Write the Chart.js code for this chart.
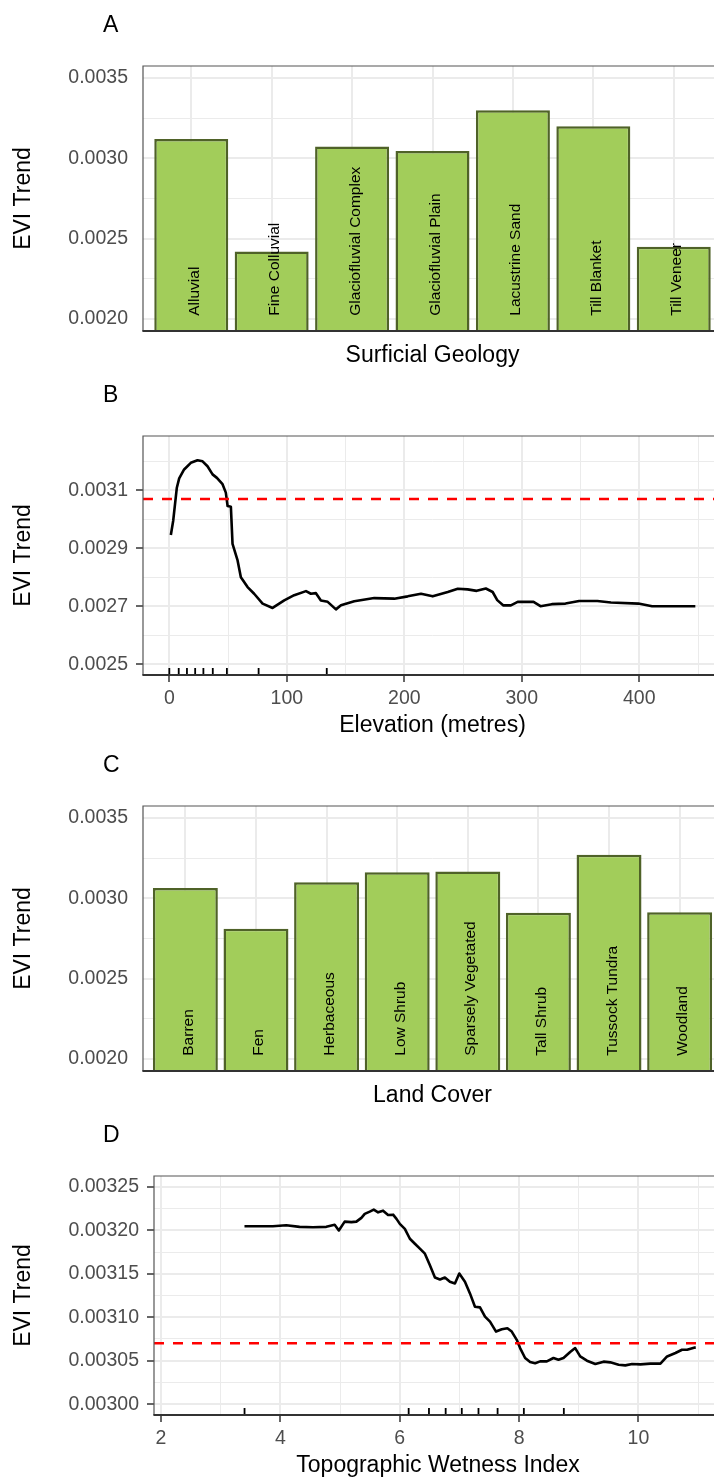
<!DOCTYPE html>
<html>
<head>
<meta charset="utf-8">
<script src="https://cdn.jsdelivr.net/npm/chart.js@4.4.1/dist/chart.umd.min.js"></script>
<style>
  html, body { margin: 0; padding: 0; background: #fff; overflow: hidden; }
  .panel { position: absolute; left: 0; width: 724px; height: 370px; }
  .panel canvas { position: absolute; left: 0; top: 0; }
  .tag { position: absolute; left: 103px; top: 13px; font: 23px/23px 'Liberation Sans', Arial, sans-serif; color: #000; }
</style>
</head>
<body>
<div class="panel" style="top:0px"><canvas id="geoChart" width="724" height="370"></canvas><div class="tag">A</div></div>
<div class="panel" style="top:370px"><canvas id="elevChart" width="724" height="370"></canvas><div class="tag">B</div></div>
<div class="panel" style="top:740px"><canvas id="landChart" width="724" height="370"></canvas><div class="tag">C</div></div>
<div class="panel" style="top:1110px"><canvas id="twiChart" width="724" height="370"></canvas><div class="tag">D</div></div>
<script>
// --- data ---
const geoCategories = ['Alluvial', 'Fine Colluvial', 'Glaciofluvial Complex', 'Glaciofluvial Plain',
  'Lacustrine Sand', 'Till Blanket', 'Till Veneer'];
const geoTrend = [0.00312, 0.00242, 0.003074, 0.003045, 0.0033, 0.0032, 0.00245];

const landCategories = ['Barren', 'Fen', 'Herbaceous', 'Low Shrub', 'Sparsely Vegetated',
  'Tall Shrub', 'Tussock Tundra', 'Woodland'];
const landTrend = [0.003065, 0.002811, 0.0031, 0.003163, 0.003167, 0.00291, 0.003272, 0.002914];

const elevation = [1.3, 3.3, 6.4, 8.4, 12.6, 18.3, 24, 28.3, 32.5, 36.8, 40.5, 45.3, 48.1, 49.6, 52.4,
  53.8, 58.1, 60.9, 66.6, 72.2, 79.4, 87.9, 97.8, 106.3, 116.3, 120.5, 124.8, 129, 134.8, 141.8,
  146.1, 157.4, 174.4, 191.5, 202.9, 214.2, 224.2, 237, 245.5, 253.9, 261.6, 269.4, 275.2, 279.1, 284.1,
  290.7, 296.5, 310, 315.9, 325.6, 337.2, 348.8, 364.3, 375.9, 399.2, 410.9, 430.2, 447.7];
const elevTrend = [0.002946, 0.002995, 0.003109, 0.003141, 0.003172, 0.003195, 0.003204, 0.0032, 0.003183,
  0.003155, 0.003143, 0.003121, 0.003092, 0.003046, 0.003043, 0.002915, 0.002858, 0.0028, 0.002766,
  0.002743, 0.002709, 0.002694, 0.00272, 0.002738, 0.002752, 0.002743, 0.002745, 0.00272, 0.002715,
  0.002689, 0.002703, 0.002717, 0.002728, 0.002726, 0.002734, 0.002743, 0.002734, 0.002749, 0.00276,
  0.002758, 0.002753, 0.002761, 0.002749, 0.002721, 0.002703, 0.002703, 0.002715, 0.002715, 0.0027,
  0.002707, 0.002709, 0.002718, 0.002718, 0.002713, 0.002709, 0.0027, 0.0027, 0.0027];
const elevRug = [0, 8, 15, 22, 29, 37, 49, 76, 134];

const twi = [3.399, 3.874, 4.099, 4.322, 4.546, 4.77, 4.91, 4.98, 5.078, 5.19, 5.274, 5.358, 5.414, 5.498,
  5.565, 5.638, 5.721, 5.805, 5.889, 5.946, 6.002, 6.086, 6.17, 6.254, 6.338, 6.422, 6.506, 6.59, 6.674,
  6.757, 6.841, 6.925, 6.998, 7.093, 7.177, 7.261, 7.345, 7.429, 7.513, 7.614, 7.71, 7.804, 7.877, 7.961,
  8.017, 8.101, 8.185, 8.269, 8.353, 8.465, 8.576, 8.66, 8.744, 8.856, 8.94, 9.024, 9.137, 9.277, 9.416,
  9.528, 9.668, 9.78, 9.893, 10.032, 10.2, 10.368, 10.48, 10.62, 10.73, 10.816, 10.93, 10.96];
const twiTrend = [0.0032047, 0.0032047, 0.0032058, 0.003204, 0.0032036, 0.003204, 0.0032063, 0.0031998,
  0.00321, 0.0032094, 0.00321, 0.0032143, 0.0032189, 0.0032215, 0.0032238, 0.0032207, 0.0032226,
  0.0032177, 0.003218, 0.0032132, 0.0032074, 0.0032017, 0.0031903, 0.0031846, 0.0031789, 0.0031731,
  0.0031598, 0.0031457, 0.0031434, 0.0031457, 0.0031407, 0.0031388, 0.0031503, 0.0031407, 0.0031274,
  0.0031121, 0.0031113, 0.0031007, 0.0030949, 0.0030835, 0.0030862, 0.0030874, 0.0030835, 0.003074,
  0.0030645, 0.0030531, 0.0030485, 0.003047, 0.0030492, 0.0030492, 0.0030531, 0.0030511, 0.0030531,
  0.00306, 0.0030645, 0.0030549, 0.00305, 0.0030462, 0.0030489, 0.0030481, 0.0030454, 0.0030446,
  0.0030462, 0.0030458, 0.0030466, 0.0030466, 0.0030549, 0.0030588, 0.0030626, 0.0030626, 0.0030649,
  0.0030653];
const twiRug = [3.4, 6.15, 6.49, 6.77, 7.04, 7.32, 7.64, 8.08, 8.75];

const meanTrend = 0.00307;
const barLabelBase = 0.00202;

// tick labels / grid breaks
const barYTicks = [0.002, 0.0025, 0.003, 0.0035];
const barYMinor = [0.00225, 0.00275, 0.00325];
const elevYTicks = [0.0025, 0.0027, 0.0029, 0.0031];
const elevYMinor = [0.0026, 0.0028, 0.003, 0.0032];
const elevXTicks = [0, 100, 200, 300, 400];
const elevXMinor = [50, 150, 250, 350, 450];
const twiYTicks = [0.003, 0.00305, 0.0031, 0.00315, 0.0032, 0.00325];
const twiYMinor = [0.003025, 0.003075, 0.003125, 0.003175, 0.003225];
const twiXTicks = [2, 4, 6, 8, 10];
const twiXMinor = [3, 5, 7, 9, 11];

const FONT = "'Liberation Sans', Arial, sans-serif";
Chart.defaults.font.family = FONT;
const CANVAS_H = 370;

function tickList(major, minor) {
  return major.map(v => ({ value: v, major: true }))
    .concat(minor.map(v => ({ value: v, major: false })));
}

function axisGrid(showTicks) {
  return {
    color: '#EBEBEB',
    lineWidth: c => (c.tick && c.tick.major ? 2 : 1),
    tickColor: c => (showTicks && c.tick && c.tick.major ? '#333333' : 'rgba(0,0,0,0)'),
    tickWidth: 1.5,
    tickLength: 7
  };
}

function yAxis(major, minor, min, max, digits, width, showTicks) {
  return {
    type: 'linear',
    min, max,
    afterBuildTicks: s => { s.ticks = tickList(major, minor); },
    afterFit: s => { s.width = width; s.paddingTop = 0; s.paddingBottom = 0; },
    grid: axisGrid(showTicks),
    border: { display: false },
    ticks: {
      font: { size: 19.5 }, color: '#4D4D4D', padding: 8, autoSkip: false,
      callback: (v, i, t) => (t[i].major ? v.toFixed(digits) : '')
    },
    title: {
      display: true, text: 'EVI Trend', color: '#000',
      font: { size: 23 }, padding: { top: 10, bottom: 0 }
    }
  };
}

function xTitle(text) {
  return { display: true, text, color: '#000', font: { size: 23 }, padding: { top: 0, bottom: 1 } };
}

// box round the panel, darker axis line at the bottom
const panelFrame = {
  id: 'panelFrame',
  afterDraw(chart) {
    const { ctx, chartArea: a } = chart;
    ctx.save();
    ctx.strokeStyle = '#555';
    ctx.lineWidth = 1.2;
    ctx.beginPath();
    ctx.moveTo(a.left, a.bottom);
    ctx.lineTo(a.left, a.top);
    ctx.lineTo(a.right, a.top);
    ctx.lineTo(a.right, a.bottom);
    ctx.stroke();
    ctx.strokeStyle = '#333';
    ctx.lineWidth = 2;
    ctx.beginPath();
    ctx.moveTo(a.left - 0.6, a.bottom);
    ctx.lineTo(a.right, a.bottom);
    ctx.stroke();
    ctx.restore();
  }
};

function barLabels(labels) {
  return {
    id: 'barLabels',
    afterDatasetsDraw(chart) {
      const { ctx, scales: { x, y } } = chart;
      ctx.save();
      ctx.font = '15.5px ' + FONT;
      ctx.fillStyle = '#000';
      ctx.textAlign = 'left';
      ctx.textBaseline = 'alphabetic';
      labels.forEach((txt, i) => {
        ctx.save();
        ctx.translate(x.getPixelForValue(i + 1) + 7.5, y.getPixelForValue(barLabelBase));
        ctx.rotate(-Math.PI / 2);
        ctx.fillText(txt, 0, 0);
        ctx.restore();
      });
      ctx.restore();
    }
  };
}

function rug(values) {
  return {
    id: 'rug',
    afterDatasetsDraw(chart) {
      const { ctx, chartArea: a, scales: { x } } = chart;
      ctx.save();
      ctx.strokeStyle = '#000';
      ctx.lineWidth = 1.8;
      ctx.beginPath();
      values.forEach(v => {
        const px = x.getPixelForValue(v);
        ctx.moveTo(px, a.bottom);
        ctx.lineTo(px, a.bottom - 7);
      });
      ctx.stroke();
      ctx.restore();
    }
  };
}

const commonOptions = {
  responsive: false,
  maintainAspectRatio: false,
  animation: false,
  events: [],
  plugins: { legend: { display: false }, tooltip: { enabled: false }, title: { display: false } }
};

function barPanel(id, categories, values, title) {
  const n = categories.length;
  new Chart(document.getElementById(id), {
    type: 'bar',
    data: {
      datasets: [{
        data: values.map((v, i) => ({ x: i + 1, y: v })),
        backgroundColor: '#A2CD5A',
        borderColor: '#4F6228',
        borderWidth: 2.5,
        barPercentage: 0.92,
        categoryPercentage: 1
      }]
    },
    options: {
      ...commonOptions,
      layout: { padding: { top: 66, right: 2, bottom: 0, left: 0 } },
      scales: {
        x: {
          type: 'linear', min: 0.4, max: n + 0.6, offset: false,
          afterBuildTicks: s => { s.ticks = categories.map((c, i) => ({ value: i + 1, major: true })); },
          afterFit: s => { s.height = CANVAS_H - 331; s.paddingLeft = 0; s.paddingRight = 0; },
          grid: { ...axisGrid(false), offset: false },
          border: { display: false },
          ticks: { display: false },
          title: xTitle(title)
        },
        y: yAxis(barYTicks, barYMinor, 0.001925, 0.003575, 4, 143, false)
      }
    },
    plugins: [panelFrame, barLabels(categories)]
  });
}

function linePanel(id, xs, ys, rugValues, xMin, xMax, xMajor, xMinor, yMajor, yMinor, yMin, yMax, digits, left, title) {
  new Chart(document.getElementById(id), {
    type: 'line',
    data: {
      datasets: [
        {
          data: [{ x: xMin, y: meanTrend }, { x: xMax, y: meanTrend }],
          borderColor: '#FF0000', borderWidth: 2.5, borderDash: [10, 9],
          pointRadius: 0
        },
        {
          data: xs.map((x, i) => ({ x, y: ys[i] })),
          borderColor: '#000', borderWidth: 2.6, borderJoinStyle: 'round',
          pointRadius: 0, tension: 0
        }
      ]
    },
    options: {
      ...commonOptions,
      layout: { padding: { top: 66, right: 2, bottom: 0, left: 0 } },
      scales: {
        x: {
          type: 'linear', min: xMin, max: xMax, offset: false,
          afterBuildTicks: s => { s.ticks = tickList(xMajor, xMinor); },
          afterFit: s => { s.height = CANVAS_H - 305; s.paddingLeft = 0; s.paddingRight = 0; },
          grid: axisGrid(true),
          border: { display: false },
          ticks: {
            font: { size: 19.5 }, color: '#4D4D4D', padding: 5, maxRotation: 0, autoSkip: false,
            callback: (v, i, t) => (t[i].major ? String(v) : '')
          },
          title: xTitle(title)
        },
        y: yAxis(yMajor, yMinor, yMin, yMax, digits, left, true)
      }
    },
    plugins: [panelFrame, rug(rugValues)]
  });
}

barPanel('geoChart', geoCategories, geoTrend, 'Surficial Geology');
linePanel('elevChart', elevation, elevTrend, elevRug, -22.4, 470.4, elevXTicks, elevXMinor,
  elevYTicks, elevYMinor, 0.0024625, 0.0032875, 4, 143, 'Elevation (metres)');
barPanel('landChart', landCategories, landTrend, 'Land Cover');
linePanel('twiChart', twi, twiTrend, twiRug, 1.883, 11.40, twiXTicks, twiXMinor,
  twiYTicks, twiYMinor, 0.0029875, 0.0032625, 5, 154, 'Topographic Wetness Index');
</script>
</body>
</html>
